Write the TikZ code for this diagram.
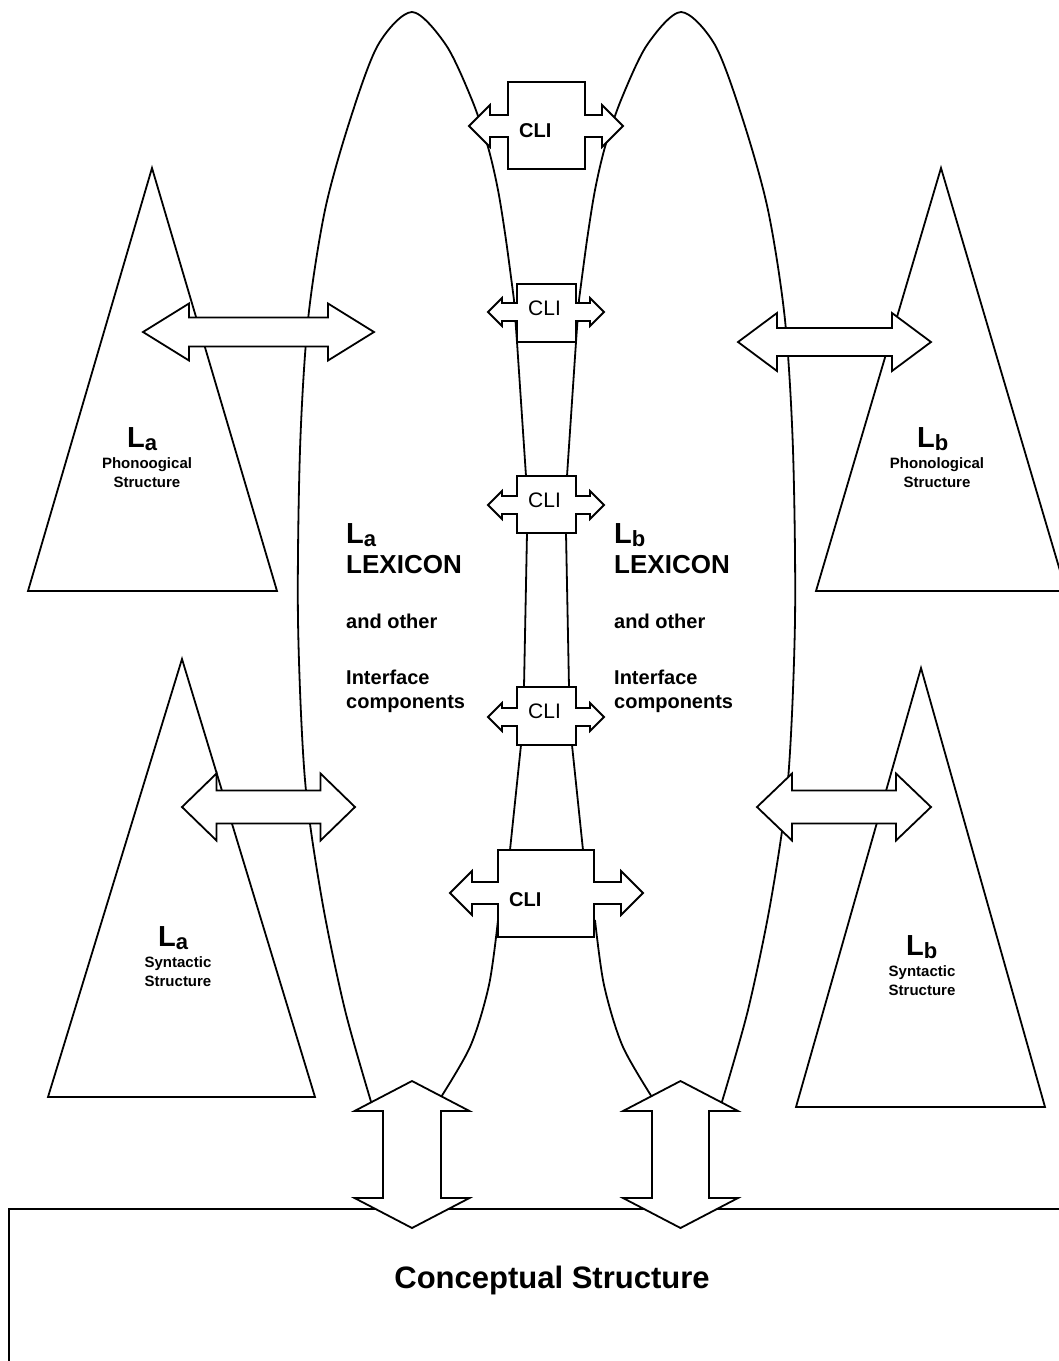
\documentclass[tikz,border=0pt]{standalone}
\usepackage{fontspec}
\setmainfont{Liberation Sans}
\newcommand\Lab[1]{{\fontsize{29}{29}\selectfont L}\raisebox{-3pt}{\fontsize{22}{22}\selectfont #1}}
\newcommand\HArrow[6]{%
 \draw[shp] (#1,#3) -- ({#1+#4},{#3-#6}) -- ({#1+#4},{#3-#5}) -- ({#2-#4},{#3-#5}) -- ({#2-#4},{#3-#6}) -- (#2,#3) -- ({#2-#4},{#3+#6}) -- ({#2-#4},{#3+#5}) -- ({#1+#4},{#3+#5}) -- ({#1+#4},{#3+#6}) -- cycle;}
\newcommand\VArrow[6]{%
 \draw[shp] (#1,#2) -- ({#1+#6},{#2+#4}) -- ({#1+#5},{#2+#4}) -- ({#1+#5},{#3-#4}) -- ({#1+#6},{#3-#4}) -- (#1,#3) -- ({#1-#6},{#3-#4}) -- ({#1-#5},{#3-#4}) -- ({#1-#5},{#2+#4}) -- ({#1-#6},{#2+#4}) -- cycle;}
\newcommand\CLIshape[9]{%
 \draw[shp] (#1,#3) -- (#2,#3) -- (#2,{#5-#6}) -- ({#9-#7},{#5-#6}) -- ({#9-#7},{#5-#7}) -- (#9,#5) -- ({#9-#7},{#5+#7}) -- ({#9-#7},{#5+#6}) -- (#2,{#5+#6}) -- (#2,#4) -- (#1,#4) -- (#1,{#5+#6}) -- ({#8+#7},{#5+#6}) -- ({#8+#7},{#5+#7}) -- (#8,#5) -- ({#8+#7},{#5-#7}) -- ({#8+#7},{#5-#6}) -- (#1,{#5-#6}) -- cycle;}
\begin{document}
\begin{tikzpicture}[x=1pt,y=-1pt,
  ln/.style={draw, line width=1.8pt, line join=miter},
  shp/.style={draw, line width=1.8pt, fill=white, line join=miter},
  tx/.style={inner sep=0pt, font=\bfseries},
  small/.style={tx, anchor=base, font=\bfseries\fontsize{15}{15}\selectfont},
  mid/.style={tx, anchor=base west, font=\bfseries\fontsize{20}{20}\selectfont},
  lex/.style={tx, anchor=base west, font=\bfseries\fontsize{26}{26}\selectfont},
  clib/.style={tx, anchor=base west, font=\bfseries\fontsize{20}{20}\selectfont},
  clir/.style={inner sep=0pt, anchor=base west, font=\fontsize{21}{21}\selectfont}]
\useasboundingbox (0,0) rectangle (1059,1361);
\clip (0,0) rectangle (1059,1361);
\fill[white] (0,0) rectangle (1059,1361);

% lexicon loops
\draw[ln] plot[smooth] coordinates {(372,1105) (345,1010) (322,900) (305,780) (298,620) (300,450) (308,320) (325,210) (350,120) (378,45) (412,12) (446,45) (472,100) (488,147) (498,190) (506,240) (514,300)};
\draw[ln] (514,300) -- (517,342) -- (526,476);
\draw[ln] (527,533) -- (524,687);
\draw[ln] (521,745) -- (510,850);
\draw[ln] plot[smooth] coordinates {(498,920) (489,985) (470,1047) (436,1105)};

\draw[ln] plot[smooth] coordinates {(721,1105) (748,1010) (771,900) (788,780) (795,620) (793,450) (785,320) (768,210) (743,120) (715,45) (681,12) (647,45) (621,100) (605,147) (595,190) (587,240) (579,300)};
\draw[ln] (579,300) -- (576,342) -- (567,476);
\draw[ln] (566,533) -- (569,687);
\draw[ln] (572,745) -- (583,850);
\draw[ln] plot[smooth] coordinates {(595,920) (604,985) (623,1047) (657,1105)};

% triangles
\draw[shp] (152,168) -- (28,591) -- (277,591) -- cycle;
\draw[shp] (941,168) -- (816,591) -- (1066,591) -- cycle;
\draw[shp] (182,659) -- (48,1097) -- (315,1097) -- cycle;
\draw[shp] (921,668) -- (796,1107) -- (1045,1107) -- cycle;

% horizontal arrows
\HArrow{143}{374}{332}{46}{14.5}{28.5}
\HArrow{182}{355}{807}{34.5}{16.5}{33.5}
\HArrow{738}{931}{342}{39}{14}{29}
\HArrow{757}{931}{807}{35}{16.5}{33.5}

% CLI shapes
\CLIshape{508}{585}{82}{169}{126}{11}{21}{469}{623}
\CLIshape{517}{576}{284}{342}{312}{9}{14}{488}{604}
\CLIshape{517}{576}{476}{533}{505}{9}{14}{488}{604}
\CLIshape{517}{576}{687}{745}{717}{9}{14}{488}{604}
\CLIshape{498}{594}{850}{937}{893}{11}{22}{450}{643}

% conceptual structure box
\draw[ln] (9,1380) -- (9,1209) -- (1080,1209);

% vertical arrows
\VArrow{412}{1081}{1228}{30}{29}{57.5}
\VArrow{680.5}{1081}{1228}{30}{28.5}{57.5}

% texts
\node[tx, anchor=base west] (laPL) at (127,447) {\Lab{a}};
\node[small] (laP1) at (147,468) {Phonoogical};
\node[small] (laP2) at (147,487) {Structure};
\node[tx, anchor=base west] (lbPL) at (917,447) {\Lab{b}};
\node[small] (lbP1) at (937,468) {Phonological};
\node[small] (lbP2) at (937,487) {Structure};
\node[tx, anchor=base west] (laSL) at (158,946) {\Lab{a}};
\node[small] (laS1) at (178,967) {Syntactic};
\node[small] (laS2) at (178,986) {Structure};
\node[tx, anchor=base west] (lbSL) at (906,955) {\Lab{b}};
\node[small] (lbS1) at (922,976) {Syntactic};
\node[small] (lbS2) at (922,995) {Structure};

\node[tx, anchor=base west] (laLL) at (346,543) {\Lab{a}};
\node[lex] (laLex) at (346,573) {LEXICON};
\node[mid] (laAnd) at (346,628) {and other};
\node[mid] (laInt) at (346,684) {Interface};
\node[mid] (laComp) at (346,708) {components};
\node[tx, anchor=base west] (lbLL) at (614,543) {\Lab{b}};
\node[lex] (lbLex) at (614,573) {LEXICON};
\node[mid] (lbAnd) at (614,628) {and other};
\node[mid] (lbInt) at (614,684) {Interface};
\node[mid] (lbComp) at (614,708) {components};

\node[clib] (cli1) at (519,137) {CLI};
\node[clir] (cli2) at (528,315) {CLI};
\node[clir] (cli3) at (528,507) {CLI};
\node[clir] (cli4) at (528,718) {CLI};
\node[clib] (cli5) at (509,906) {CLI};

\node[tx, anchor=base, font=\bfseries\fontsize{31}{31}\selectfont] (cs) at (552,1288) {Conceptual Structure};
\end{tikzpicture}
\end{document}
